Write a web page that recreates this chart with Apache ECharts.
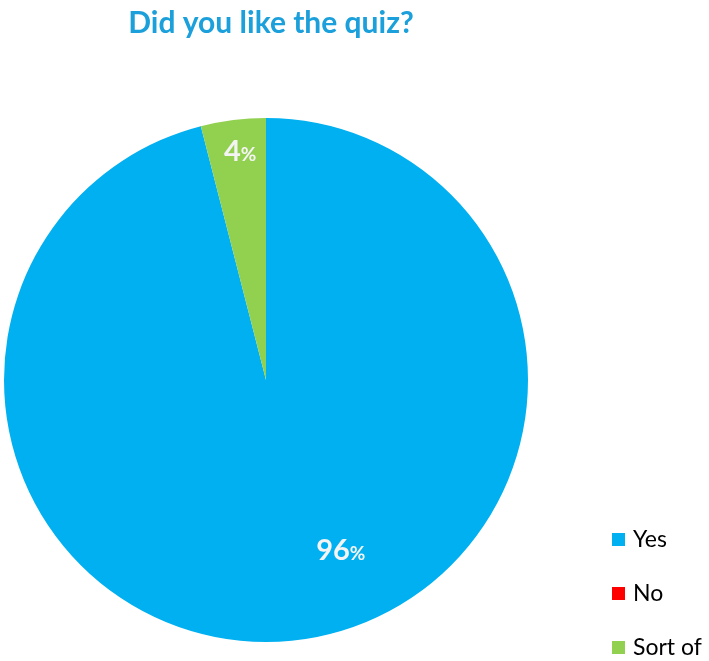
<!DOCTYPE html>
<html>
<head>
<meta charset="utf-8">
<script src="https://cdn.jsdelivr.net/npm/echarts@6/dist/echarts.min.js"></script>
<style>
  html, body { margin: 0; padding: 0; background: #fff; }
  #chart { width: 709px; height: 661px; }
</style>
</head>
<body>
<div id="chart"></div>
<script>
// Survey answers and their shares (percent)
const categories = ['Yes', 'No', 'Sort of'];
const values = [96, 0, 4];
const colors = ['#00b0f0', '#ff0000', '#92d050'];

// Offsets that nudge each slice label away from its default inside spot
const labelShift = [
  { dx: 58, dy: 38 },
  { dx: 0, dy: 0 },
  { dx: -9, dy: -95 }
];

const font = 'Lato, "Open Sans", "DejaVu Sans", sans-serif';

const chart = echarts.init(document.getElementById('chart'), null, { renderer: 'canvas' });

chart.setOption({
  animation: false,
  title: {
    text: 'Did you like the quiz?',
    left: 266,
    textAlign: 'center',
    top: 3,
    textStyle: { color: '#1ba0db', fontSize: 30, fontWeight: 'bold', fontFamily: font }
  },
  legend: {
    orient: 'vertical',
    left: 612,
    top: 528,
    padding: 0,
    height: 140,
    icon: 'rect',
    itemWidth: 13,
    itemHeight: 13,
    itemGap: 31,
    textStyle: { fontSize: 23, lineHeight: 23, color: '#000', fontFamily: font, padding: [0, 0, 0, 3] },
    data: categories
  },
  series: [{
    type: 'pie',
    center: [266, 380],
    radius: 262,
    startAngle: 90,
    clockwise: true,
    avoidLabelOverlap: false,
    itemStyle: { borderWidth: 0 },
    label: {
      show: true,
      position: 'inside',
      formatter: p => '{n|' + p.value + '}{p|%}',
      rich: {
        n: { fontSize: 29, fontWeight: 'bold', color: '#f4f4f4', fontFamily: font },
        p: { fontSize: 19, fontWeight: 'bold', color: '#f4f4f4', fontFamily: font, padding: [6, 0, 0, 0] }
      }
    },
    labelLine: { show: false },
    labelLayout: p => labelShift[p.dataIndex],
    emphasis: { disabled: true },
    data: categories.map((name, i) => ({
      name,
      value: values[i],
      itemStyle: { color: colors[i] },
      label: { show: values[i] > 0 }
    }))
  }]
});
</script>
</body>
</html>
